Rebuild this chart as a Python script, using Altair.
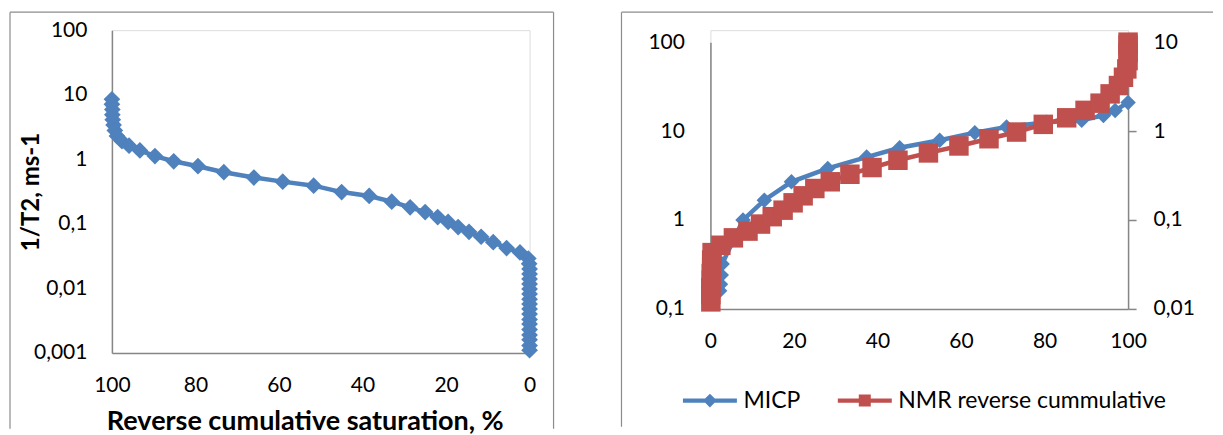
import altair as alt
import pandas as pd

# ---------------- data ----------------
# Left panel: 1/T2 vs reverse cumulative saturation
sat_left = [100.0, 100.0, 99.9, 99.9, 99.8, 99.6, 99.3, 98.8, 97.6, 95.9,
            93.3, 89.7, 85.2, 79.4, 73.2, 66.0, 59.1, 51.7, 45.0, 38.4,
            33.0, 28.6, 25.0, 22.0, 19.5, 17.1, 14.5, 11.6, 8.7, 5.5,
            2.3, 0.3, 0.1, 0.0, 0.0, 0.0, 0.0, 0.0, 0.0, 0.0,
            0.0, 0.0, 0.0, 0.0, 0.0, 0.0, 0.0, 0.0, 0.0, 0.0]
t2inv_left = [8.5, 7.1, 5.9, 4.9, 4.1, 3.4, 2.8, 2.3, 1.9, 1.62,
              1.37, 1.12, 0.93, 0.78, 0.63, 0.52, 0.45, 0.39, 0.31, 0.27,
              0.22, 0.18, 0.152, 0.127, 0.107, 0.089, 0.075, 0.063, 0.052, 0.042,
              0.036, 0.029, 0.024, 0.020, 0.0167, 0.0140, 0.0117, 0.0098, 0.0082, 0.0068,
              0.0057, 0.0048, 0.0040, 0.0033, 0.0028, 0.0023, 0.0019, 0.0016, 0.0013, 0.0011]

# Right panel: MICP (left axis) and NMR reverse cumulative (right axis)
micp_x = [2.2, 2.4, 2.6, 2.8, 7.8, 12.9, 19.4, 28.1, 37.4, 45.3,
          54.9, 63.3, 70.9, 80.5, 88.9, 94.1, 96.9, 100.0]
micp_y = [0.16, 0.19, 0.24, 0.32, 1.0, 1.67, 2.69, 3.8, 5.1, 6.5,
          7.9, 9.6, 11.1, 12.6, 13.2, 15.0, 17.0, 21.0]

nmr_x = [0.1, 0.1, 0.1, 0.2, 0.2, 0.3, 0.3, 0.4,
         2.5, 5.5, 9.0, 12.0, 14.8, 17.4, 19.8, 22.2, 25.0, 28.7,
         33.4, 38.7, 44.9, 52.2, 59.5, 66.7, 73.3, 79.7, 85.3, 89.7,
         93.3, 95.7, 97.7, 98.9, 99.7, 100.0, 100.0, 100.0, 100.0]
nmr_y = [0.012, 0.0145, 0.0174, 0.021, 0.025, 0.030, 0.0355, 0.043,
         0.052, 0.063, 0.075, 0.090, 0.109, 0.129, 0.156, 0.187, 0.226, 0.269,
         0.327, 0.389, 0.47, 0.568, 0.68, 0.82, 0.975, 1.19, 1.41, 1.71,
         2.06, 2.62, 3.25, 4.03, 5.0, 6.2, 7.6, 9.3, 10.0]

series_names = ["MICP", "NMR reverse cummulative"]
x_ticks = [0, 20, 40, 60, 80, 100]
left_y_ticks = [0.001, 0.01, 0.1, 1, 10, 100]
micp_ticks = [0.1, 1, 10, 100]
nmr_ticks = [0.01, 0.1, 1, 10]

# ---------------- styling ----------------
FONT = "Lato"
BLUE = "#4F81BD"
RED = "#C0504D"
AXIS_GREY = "#868686"
FRAME_GREY = "#8C8C8C"
LABEL_SIZE = 21
DIAMOND_LEG = "M-4.5,-0.35H4.5V0.35H-4.5Z M0,-1.15L1.15,0L0,1.15L-1.15,0Z"
SQUARE_LEG = "M-4.5,-0.35H4.5V0.35H-4.5Z M-1,-1H1V1H-1Z"
COMMA = "replace(datum.label, '.', ',')"

one_row = pd.DataFrame({"k": [0]})


def frame_rule(x, x2, y, y2):
    return alt.Chart(one_row).mark_rule(color=FRAME_GREY, strokeWidth=1.2).encode(
        x=alt.value(x), x2=alt.value(x2), y=alt.value(y), y2=alt.value(y2))


# ---------------- left panel ----------------
left_df = pd.DataFrame({"sat": sat_left, "v": t2inv_left, "i": list(range(len(sat_left)))})
W_L, H_L = 418, 323

xL = alt.X("sat:Q",
           scale=alt.Scale(domain=[0, 100], reverse=True, nice=False, zero=False),
           axis=alt.Axis(values=x_ticks, grid=False, ticks=False,
                         domainColor=AXIS_GREY, domainWidth=1.5,
                         labelFont=FONT, labelFontSize=LABEL_SIZE, labelColor="black",
                         labelPadding=22, labelFlush=False,
                         title="Reverse cumulative saturation, %",
                         titleFont=FONT, titleFontSize=27, titleFontWeight="bold",
                         titleColor="black", titleX=193, titleY=77,
                         titleAlign="center", titleBaseline="alphabetic"))
yL = alt.Y("v:Q",
           scale=alt.Scale(type="log", domain=[0.001, 100], nice=False),
           axis=alt.Axis(values=left_y_ticks, format="~g", labelExpr=COMMA,
                         grid=False, ticks=False,
                         domainColor=AXIS_GREY, domainWidth=1.5,
                         labelFont=FONT, labelFontSize=LABEL_SIZE, labelColor="black",
                         labelPadding=25, labelFlush=False,
                         title="1/T2, ms-1", titleFont=FONT, titleFontSize=24,
                         titleFontWeight="bold", titleColor="black",
                         titleX=-73, titleY=H_L / 2, titleAngle=270,
                         titleAlign="center", titleBaseline="alphabetic"))

left_base = alt.Chart(left_df).encode(x=xL, y=yL, order="i:Q")
left_line = left_base.mark_line(color=BLUE, strokeWidth=4.5)
left_pts = left_base.mark_point(shape="diamond", filled=True, size=280, color=BLUE, opacity=1)

left_chart = alt.layer(
    left_line, left_pts,
    frame_rule(-102, -102, -18, 399),
    frame_rule(-102, 442, -18, -18),
    frame_rule(442, 442, -18, 399),
).properties(width=W_L, height=H_L)

# ---------------- right panel ----------------
# plot group starts at the same top as the left one; data range starts 12 px lower
W_R, H_R, TOP_GAP = 418, 279, 12
micp_df = pd.DataFrame({"x": micp_x, "y": micp_y, "i": list(range(len(micp_x)))})
nmr_df = pd.DataFrame({"x": nmr_x, "y2v": nmr_y, "i": list(range(len(nmr_x)))})
legend_df = pd.DataFrame({"series": series_names,
                          "x": [micp_x[0], nmr_x[0]],
                          "y": [micp_y[0], micp_y[0]]})

xR = alt.X("x:Q",
           scale=alt.Scale(domain=[0, 100], nice=False, zero=False),
           axis=alt.Axis(values=x_ticks, grid=False, ticks=False,
                         domainColor=AXIS_GREY, domainWidth=1.5,
                         labelFont=FONT, labelFontSize=LABEL_SIZE, labelColor="black",
                         labelPadding=22, labelFlush=False, title=None))
yMICP = alt.Y("y:Q",
              scale=alt.Scale(type="log", domain=[0.1, 100], nice=False, range=[H_R, TOP_GAP]),
              axis=alt.Axis(values=micp_ticks, format="~g", labelExpr=COMMA,
                            grid=False, ticks=False,
                            domainColor=AXIS_GREY, domainWidth=1.5,
                            labelFont=FONT, labelFontSize=LABEL_SIZE, labelColor="black",
                            labelPadding=26, labelFlush=False, title=None))
yNMR = alt.Y("y2v:Q",
             scale=alt.Scale(type="log", domain=[0.01, 10], nice=False, range=[H_R, TOP_GAP]),
             axis=alt.Axis(values=nmr_ticks, format="~g", labelExpr=COMMA, orient="right",
                           grid=False, ticks=True, tickSize=8, tickColor=AXIS_GREY,
                           tickWidth=1.5,
                           domainColor=AXIS_GREY, domainWidth=1.5,
                           labelFont=FONT, labelFontSize=LABEL_SIZE, labelColor="black",
                           labelPadding=17, labelFlush=False, title=None))

leg = alt.Legend(orient="none", legendX=-12, legendY=359, direction="horizontal",
                 title=None, labelFont=FONT, labelFontSize=23, labelColor="black",
                 symbolSize=144, symbolOpacity=1, symbolStrokeWidth=0,
                 labelOffset=22, columnPadding=37, padding=0, labelLimit=400)

micp_base = alt.Chart(micp_df).encode(x=xR, y=yMICP, order="i:Q")
micp_line = micp_base.mark_line(color=BLUE, strokeWidth=4.5)
micp_pts = micp_base.mark_point(shape="diamond", filled=True, size=240, color=BLUE, opacity=1)
legend_layer = alt.Chart(legend_df).mark_point(filled=True, opacity=0).encode(
    x=xR, y=yMICP,
    color=alt.Color("series:N", scale=alt.Scale(domain=series_names, range=[BLUE, RED]), legend=leg),
    shape=alt.Shape("series:N", scale=alt.Scale(domain=series_names, range=[DIAMOND_LEG, SQUARE_LEG]),
                    legend=leg),
)

nmr_base = alt.Chart(nmr_df).encode(x=xR, y=yNMR, order="i:Q")
nmr_line = nmr_base.mark_line(color=RED, strokeWidth=4.5)
nmr_pts = nmr_base.mark_point(shape="square", filled=True, size=380, color=RED, opacity=1)

micp_group = alt.layer(
    frame_rule(-89, -89, -18, 397),
    frame_rule(-89, 503, -18, -18),
    legend_layer, micp_line, micp_pts,
)
nmr_group = alt.layer(nmr_line, nmr_pts)

right_chart = alt.layer(micp_group, nmr_group).resolve_scale(y="independent").properties(
    width=W_R, height=H_R)

chart = alt.hconcat(left_chart, right_chart, spacing=64).resolve_scale(
    color="independent", shape="independent"
).properties(
    padding={"left": 0, "top": 2, "right": 0, "bottom": 0}
).configure_view(stroke=None).configure(font=FONT)

chart.save("out.html", embed_options={"renderer": "svg", "actions": False})
